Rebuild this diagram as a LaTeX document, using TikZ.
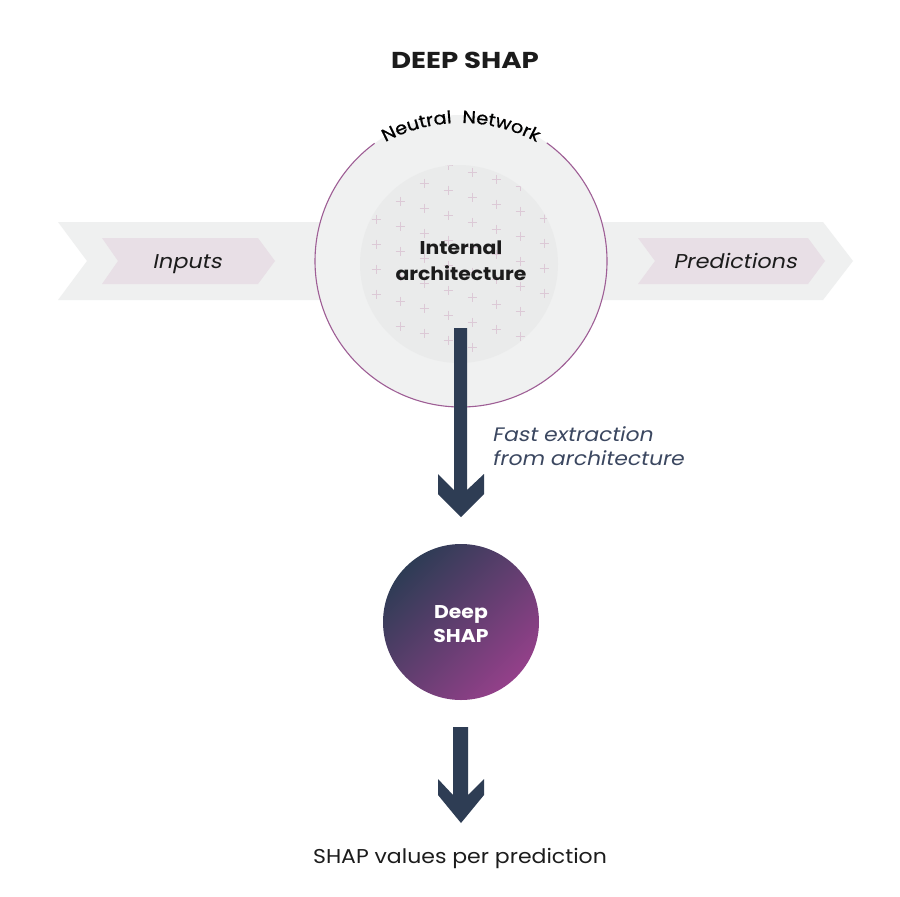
\documentclass[tikz,border=0pt]{standalone}
\usepackage{fontspec}
\setmainfont{Poppins}[FakeStretch=1.1]
\newfontfamily\slfont{Poppins}[FakeSlant=0.2, FakeStretch=1.12]
\newfontfamily\titlefont{Poppins}[FakeStretch=1.2]
\newfontfamily\nnfont{Poppins}[FakeStretch=1.1, FakeBold=0.8]
\usetikzlibrary{decorations.text}
\definecolor{band}{HTML}{EFF0F0}
\definecolor{pinkarrow}{HTML}{E8DFE6}
\definecolor{circfill}{HTML}{F0F1F1}
\definecolor{innerfill}{HTML}{EAEBEB}
\definecolor{plusc}{HTML}{DCC9D6}
\definecolor{ring}{HTML}{9E5E95}
\definecolor{navy}{HTML}{2E3D54}
\definecolor{grad1}{HTML}{2E3C55}
\definecolor{grad2}{HTML}{94408A}
\definecolor{ink}{HTML}{1C1C1C}
\definecolor{slate}{HTML}{3B4760}
\tikzset{
  txt/.style={inner sep=0pt, text=ink},
  plus/.style={draw=plusc, line width=0.9pt},
  bararrow/.style={fill=navy},
}
\begin{document}
\begin{tikzpicture}[x=1pt,y=-1pt]
\useasboundingbox (0,0) rectangle (900,897);
\fill[white] (0,0) rectangle (900,897);
% band
\fill[band] (58,222) -- (823,222) -- (853,261) -- (823,300) -- (58,300) -- (87,261) -- cycle;
\fill[pinkarrow] (102,238) -- (258,238) -- (275,261) -- (258,284) -- (102,284) -- (118,261) -- cycle;
\fill[pinkarrow] (638,238) -- (808,238) -- (825,261) -- (808,284) -- (638,284) -- (655,261) -- cycle;
\node[txt, anchor=base, font=\slfont\fontsize{20}{20}\selectfont] (inputs) at (187,268) {Inputs};
\node[txt, anchor=base, font=\slfont\fontsize{20}{20}\selectfont] (preds) at (735,268) {Predictions};
% network circle
\coordinate (nc) at (461,261);
\fill[circfill] (nc) circle[radius=146];
\fill[innerfill] (459,264) circle[radius=99];
\begin{scope}
\clip (459,264) circle[radius=99];
\foreach \i in {0,...,7}{
  \foreach \j in {-1,...,9}{
    \pgfmathsetmacro{\px}{376+24*\i}
    \pgfmathsetmacro{\py}{144+7*\i+25*\j}
    \pgfmathsetmacro{\dd}{veclen(\px-460,\py-261)}
    \ifdim\dd pt<97pt
      \draw[plus] (\px-4.5,\py) -- (\px+4.5,\py) (\px,\py-4.5) -- (\px,\py+4.5);
    \fi
  }
}
\end{scope}
\draw[ring, line width=1.1pt] ([shift={(306:146)}]nc) arc[start angle=306, end angle=593.7, radius=146];
\coordinate (tc) at (461,282);
\path[decorate, decoration={text along path, text align=center,
  text={|\nnfont\fontsize{17.5}{17.5}\selectfont|Neutral{ }{ }Network}}]
  ([shift={(220:159)}]tc) arc[start angle=220, end angle=320, radius=159];
\node[txt, anchor=base, align=center, font=\bfseries\fontsize{18.5}{26}\selectfont] (arch) at (461,280) {Internal\\architecture};
% title
\node[txt, anchor=base, font=\titlefont\bfseries\fontsize{23}{23}\selectfont] (title) at (465,68) {DEEP SHAP};
% first arrow
\fill[bararrow] (454,328) -- (454,490) -- (438,474) -- (438,494) -- (461,517) -- (484,494) -- (484,474) -- (467,490) -- (467,328) -- cycle;
\node[txt, anchor=base west, align=left, text=slate, font=\slfont\fontsize{19.5}{23.5}\selectfont] (fast) at (492,465) {Fast extraction\\from architecture};
% deep shap circle
\shade[left color=grad1, right color=grad2, shading angle=45] (461,622) circle[radius=78];
\node[txt, anchor=base, align=center, text=white, font=\bfseries\fontsize{18.5}{23.5}\selectfont] (deep) at (461,642) {Deep\\SHAP};
% second arrow
\fill[bararrow] (453,727) -- (453,795) -- (438,779) -- (438,795) -- (461,823) -- (484,795) -- (484,779) -- (468,795) -- (468,727) -- cycle;
\node[txt, anchor=base, font=\fontsize{20}{20}\selectfont] (vals) at (460,863) {SHAP values per prediction};
\end{tikzpicture}
\end{document}
